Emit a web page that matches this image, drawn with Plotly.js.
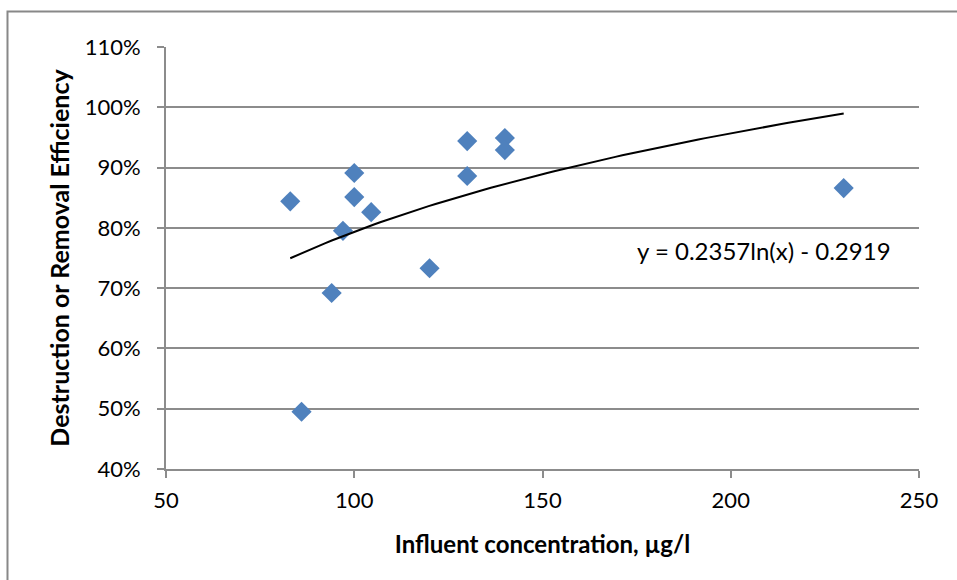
<!DOCTYPE html>
<html>
<head>
<meta charset="utf-8">
<script src="https://cdn.plot.ly/plotly-3.0.1.min.js"></script>
<style>
  html, body { margin: 0; padding: 0; background: #ffffff; }
  #chart { width: 957px; height: 580px; }
</style>
</head>
<body>
<div id="chart"></div>
<script>
// Influent concentration (µg/l) and destruction/removal efficiency (fraction)
const influent = [83, 86, 94, 97, 100, 100, 104.5, 120, 130, 130, 140, 140, 230];
const efficiency = [0.844, 0.495, 0.692, 0.795, 0.891, 0.851, 0.826, 0.733, 0.944, 0.886, 0.949, 0.929, 0.866];

// Logarithmic trendline coefficients: y = a*ln(x) + b
const trendA = 0.2357;
const trendB = -0.2919;
const trendLabel = 'y = 0.2357ln(x) - 0.2919';

const yTicks = [0.4, 0.5, 0.6, 0.7, 0.8, 0.9, 1.0, 1.1];
const yTickText = ['40%', '50%', '60%', '70%', '80%', '90%', '100%', '110%'];
const xTicks = [50, 100, 150, 200, 250];

// Sample the fitted curve across the span of the data
const xMin = Math.min(...influent);
const xMax = Math.max(...influent);
const trendX = [];
const trendY = [];
const steps = 80;
for (let i = 0; i <= steps; i++) {
  const x = xMin + (xMax - xMin) * i / steps;
  trendX.push(x);
  trendY.push(trendA * Math.log(x) + trendB);
}

const gridColor = '#8c8c8c';
const font = 'Lato, "Open Sans", "Liberation Sans", sans-serif';

const traces = [
  {
    x: influent,
    y: efficiency,
    type: 'scatter',
    mode: 'markers',
    marker: { symbol: 'diamond', size: 15.5, color: '#4f81bd', line: { width: 0 } },
    hoverinfo: 'x+y',
    showlegend: false
  },
  {
    x: trendX,
    y: trendY,
    type: 'scatter',
    mode: 'lines',
    line: { color: '#000000', width: 2 },
    hoverinfo: 'skip',
    showlegend: false
  }
];

const layout = {
  width: 957,
  height: 580,
  margin: { l: 166, r: 38, t: 47, b: 111 },
  paper_bgcolor: '#ffffff',
  plot_bgcolor: '#ffffff',
  font: { family: font, color: '#000000', size: 22 },
  xaxis: {
    range: [50, 250],
    tickvals: xTicks,
    ticktext: xTicks.map(String),
    showgrid: false,
    zeroline: false,
    showline: true,
    linecolor: gridColor,
    linewidth: 2,
    ticks: 'outside',
    ticklen: 7,
    tickwidth: 2,
    tickcolor: gridColor,
    tickfont: { family: font, size: 22, color: '#000000' },
    ticklabelstandoff: 4,
    title: {
      text: 'Influent concentration, µg/l',
      font: { family: font, size: 24, color: '#000000', weight: 'bold' },
      standoff: 24
    },
    automargin: false
  },
  yaxis: {
    range: [0.4, 1.1],
    tickvals: yTicks,
    ticktext: yTickText,
    showgrid: true,
    gridcolor: gridColor,
    gridwidth: 2,
    zeroline: false,
    showline: true,
    linecolor: gridColor,
    linewidth: 2,
    ticks: 'outside',
    ticklen: 7,
    tickwidth: 2,
    tickcolor: gridColor,
    tickfont: { family: font, size: 22, color: '#000000' },
    ticklabelstandoff: 12,
    title: {
      text: 'Destruction or Removal Efficiency',
      font: { family: font, size: 25, color: '#000000', weight: 'bold' },
      standoff: 8
    },
    automargin: false
  },
  annotations: [
    {
      x: 243.1, y: 0.763, xref: 'x', yref: 'y',
      xanchor: 'right', yanchor: 'middle',
      text: trendLabel,
      showarrow: false,
      font: { family: font, size: 24, color: '#000000' }
    }
  ],
  shapes: [
    {
      type: 'rect', xref: 'paper', yref: 'paper',
      x0: -0.2105, x1: 1.3, y0: -0.5, y1: 1.0841,
      line: { color: '#888888', width: 2 },
      fillcolor: 'rgba(0,0,0,0)',
      layer: 'below'
    }
  ]
};

Plotly.newPlot('chart', traces, layout, { displayModeBar: false, staticPlot: true });
</script>
</body>
</html>
